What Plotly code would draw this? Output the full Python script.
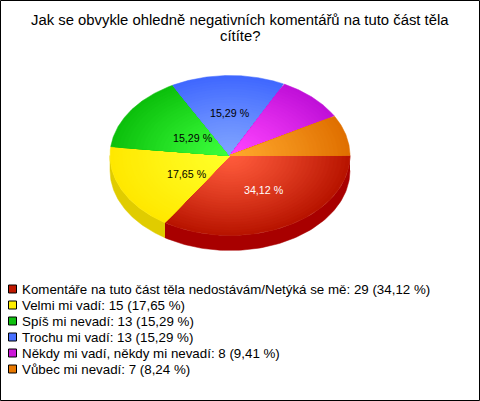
import math
import numpy as np
import plotly.graph_objects as go

categories = ["Komentáře na tuto část těla nedostávám/Netýká se mě", "Velmi mi vadí", "Spíš mi nevadí",
              "Trochu mi vadí", "Někdy mi vadí, někdy mi nevadí", "Vůbec mi nevadí"]
counts = [29, 15, 13, 13, 8, 7]
percent_text = ["34,12 %", "17,65 %", "15,29 %", "15,29 %", "9,41 %", "8,24 %"]
title_lines = ["Jak se obvykle ohledně negativních komentářů na tuto část těla", "cítíte?"]

# styles
inner = ["#ff5c3c", "#ffff28", "#3cff3c", "#80a4ff", "#ff44ff", "#ffa82c"]
outer = ["#b81400", "#ffe800", "#0cc00c", "#4068ff", "#c010d8", "#e07000"]
swatch = ["#c01800", "#ffee00", "#10c010", "#4870ff", "#cc18d8", "#e87800"]
side = {0: "#a80000", 1: "#e0cc00"}
label_colors = ["white", "black", "black", "black", None, None]
label_fx = [0.60, 0.40, 0.37, 0.0, 0, 0]
label_fy = [0.49, 0.54, 0.40, 0.53, 0, 0]
CX, CY, RX, RY, DEPTH = 230, 155.5, 120, 80, 15
FONT = "Liberation Sans, Arial, sans-serif"


def hex2rgb(h):
    return [int(h[i:i + 2], 16) for i in (1, 3, 5)]


def mix(a, b, t):
    ca, cb = hex2rgb(a), hex2rgb(b)
    return "rgb(%d,%d,%d)" % tuple(round(x + (y - x) * t) for x, y in zip(ca, cb))


total = sum(counts)
edges = np.cumsum([0] + counts) / total * 2 * math.pi
fig = go.Figure()


def poly(xs, ys, color):
    fig.add_trace(go.Scatter(x=xs, y=ys, mode="lines", fill="toself", fillcolor=color,
                             line=dict(color=color, width=0.5), hoverinfo="skip", showlegend=False))


# side walls (only the front half of the ellipse is visible)
for i, col in side.items():
    a0, a1 = edges[i], min(edges[i + 1], math.pi)
    t = np.linspace(a0, a1, 80)
    x = CX + RX * np.cos(t)
    y = CY + RY * np.sin(t)
    poly(list(x) + list(x[::-1]), list(y) + list((y + DEPTH)[::-1]), col)

# top faces as nested sectors, outermost first, giving a radial gradient
N = 30
for i in range(len(counts)):
    t = np.linspace(edges[i], edges[i + 1], 90)
    for k in range(N, 0, -1):
        f = k / N
        x = [CX] + list(CX + f * RX * np.cos(t)) + [CX]
        y = [CY] + list(CY + f * RY * np.sin(t)) + [CY]
        poly(x, y, mix(inner[i], outer[i], f ** 1.2))

# slice labels
for i in range(len(counts)):
    if label_colors[i] is None:
        continue
    m = (edges[i] + edges[i + 1]) / 2
    fig.add_annotation(x=CX + label_fx[i] * RX * math.cos(m), y=CY + label_fy[i] * RY * math.sin(m),
                       text=percent_text[i], showarrow=False,
                       font=dict(family=FONT, size=10.67, color=label_colors[i]))

# legend
for i, (c, n, p) in enumerate(zip(categories, counts, percent_text)):
    ly = 289 + 16 * i
    fig.add_trace(go.Scatter(x=[12.5], y=[ly], mode="markers", hoverinfo="skip", showlegend=False,
                             marker=dict(symbol="square", size=8, color=swatch[i],
                                         line=dict(color="black", width=1))))
    fig.add_annotation(x=20, y=ly, text=f"{c}: {n} ({p})", showarrow=False, xanchor="left",
                       font=dict(family=FONT, size=13.33, color="black"))

# title
for j, line in enumerate(title_lines):
    fig.add_annotation(x=240, y=20 + 16 * j, text=line, showarrow=False,
                       font=dict(family=FONT, size=14.85, color="black"))

fig.add_shape(type="rect", x0=0.5, y0=0.5, x1=479.5, y1=400.5, line=dict(color="black", width=1),
              layer="above")

fig.update_layout(
    width=480, height=401, autosize=False, margin=dict(l=0, r=0, t=0, b=0),
    paper_bgcolor="white", plot_bgcolor="white", showlegend=False,
    xaxis=dict(range=[0, 480], visible=False, fixedrange=True),
    yaxis=dict(range=[401, 0], visible=False, fixedrange=True),
)
fig.write_html("out.html", config={"displayModeBar": False},
               post_script="document.body.style.margin='0';document.body.style.overflow='hidden';")
